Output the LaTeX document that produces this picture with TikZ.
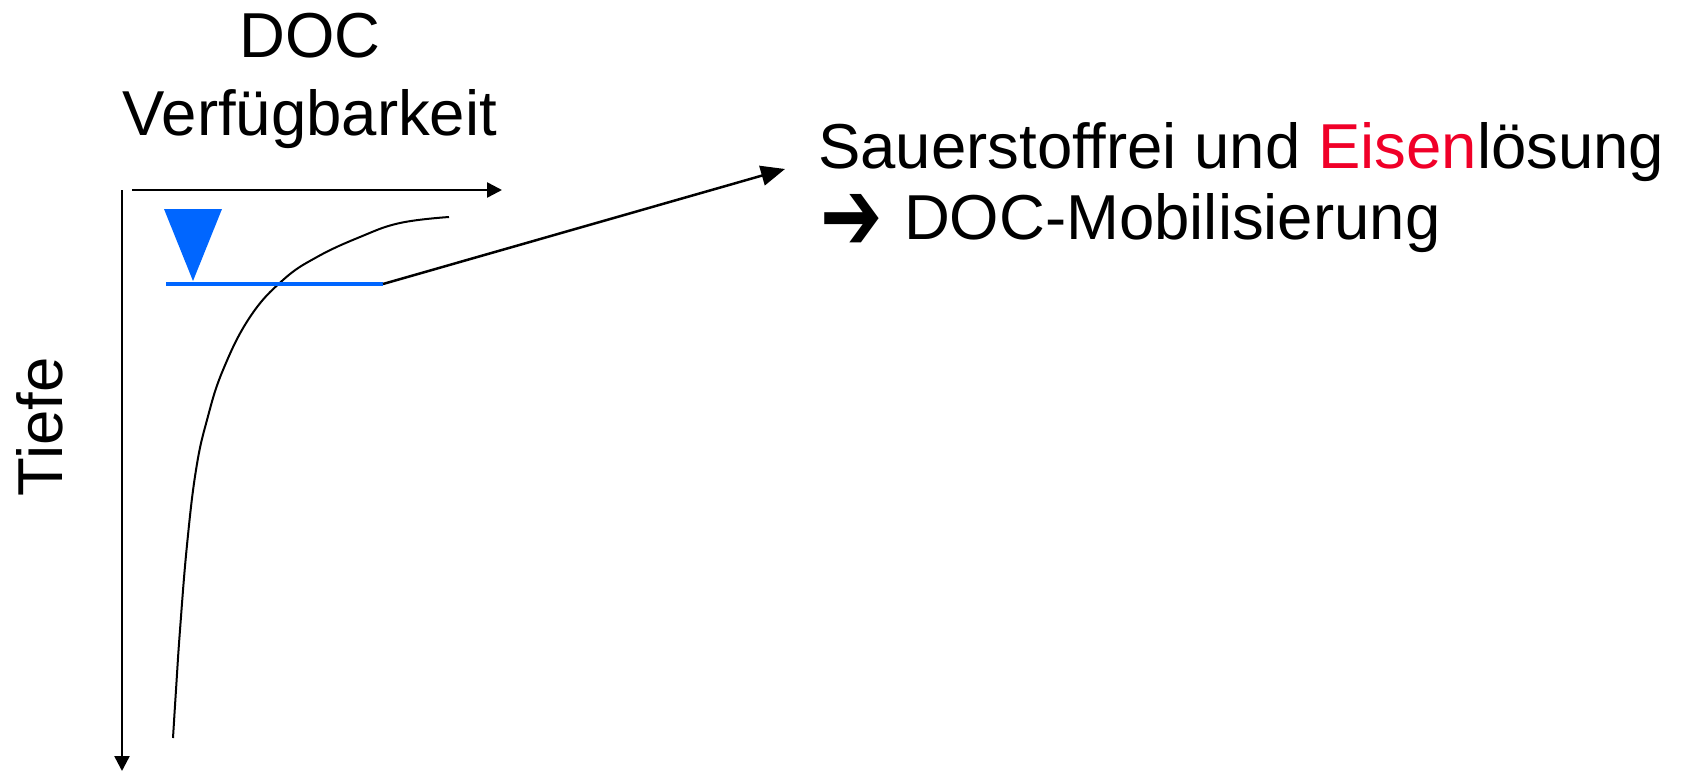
\documentclass[tikz,border=0pt]{standalone}
\usepackage{fontspec}
\setmainfont{Liberation Sans}
\newfontfamily\symfont{DejaVu Sans}
\usetikzlibrary{arrows.meta}
\definecolor{waterblue}{RGB}{0,102,255}
\definecolor{ironred}{RGB}{240,0,40}

\begin{document}
\begin{tikzpicture}[x=1pt, y=-1pt,
        axis/.style={line width=2.5pt, -{Triangle[length=15pt, width=15pt]}},
        pointer/.style={line width=2.5pt, -{Triangle[length=24pt, width=20pt]}},
        lbl/.style={font=\fontsize{63.5}{76}\selectfont, inner sep=0pt},
    ]
    \useasboundingbox (0,0) rectangle (1681,771);

    % Axes
    \coordinate (ytop) at (122,190); \coordinate (ybot) at (122,771);
    \coordinate (xleft) at (132,190); \coordinate (xright) at (502,190);
    \draw[axis] (ytop) -- (ybot);
    \draw[axis] (xleft) -- (xright);

    % Axis labels
    \node[lbl, anchor=base] (doc) at (310,57) {DOC};
    \node[lbl, anchor=base] (avail) at (310,135) {Verfügbarkeit};
    \node[lbl, anchor=base, rotate=90] (depth) at (62,427) {Tiefe};

    % DOC profile over depth
    \draw[line width=2pt] plot[smooth, tension=0.7] coordinates {
        (449,217) (400,223) (360,237) (317,257) (283,280) (250,317)
        (223,370) (207,420) (196,470) (187,545) (180,630) (176,690)
        (173,738)};

    % Water table
    \fill[waterblue] (164,209) -- (222,209) -- (193,281) -- cycle;
    \coordinate (wlstart) at (166,284); \coordinate (wlend) at (383,284);
    \draw[waterblue, line width=3.5pt] (wlstart) -- (wlend);

    % Explanation
    \node[lbl, anchor=base west] (cond) at (818,168)
        {Sauerstoffrei und \textcolor{ironred}{Eisen}lösung};
    \node[lbl, anchor=base west] (mob) at (820,239)
        {\raisebox{-11pt}{\scalebox{1.17}[1.6]{\symfont ➔}}\hspace{4pt} DOC-Mobilisierung};
    \coordinate (tip) at (785,169);
    \draw[pointer] (wlend) -- (tip);
\end{tikzpicture}
\end{document}
